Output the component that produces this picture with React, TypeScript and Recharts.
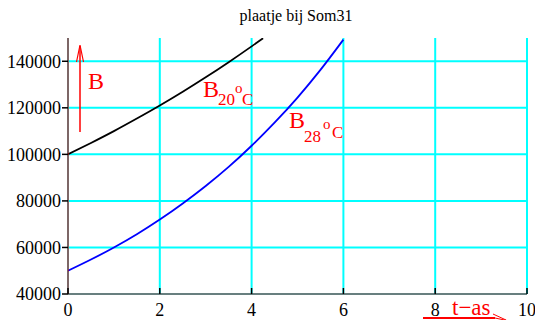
import React from "react";
import { LineChart, Line, XAxis, YAxis, CartesianGrid } from "recharts";

// Time (t) samples and the two growth curves
const tB20 = [0, 0.5, 1, 1.5, 2, 2.5, 3, 3.5, 4, 4.25];
const b20 = [100000, 104900, 110000, 115400, 121000, 126900, 133100, 139600, 146400, 149900];

const tB28 = [0, 0.5, 1, 1.5, 2, 2.5, 3, 3.5, 4, 4.5, 5, 5.5, 6];
const b28 = [50000, 54800, 60000, 65700, 72000, 78900, 86400, 94600, 103700, 113600, 124400, 136300, 149300];

const xTicks = [0, 2, 4, 6, 8, 10];
const yTicks = [40000, 60000, 80000, 100000, 120000, 140000];

const b20Data = tB20.map((t, i) => ({ t, B: b20[i] }));
const b28Data = tB28.map((t, i) => ({ t, B: b28[i] }));

const FONT = "'Liberation Serif', 'Times New Roman', 'DejaVu Serif', serif";
const CYAN = "#00ffff";
const RED = "#ff0000";
const AXIS_RED = "#d00000";

const BOTTOM_TICK_SIZE = 0;
const BOTTOM_TICK_MARGIN = 9;

const serif = { fontFamily: FONT };

const BottomTick = (props: any) => {
  const { x, y, payload } = props;
  const axisY = y - BOTTOM_TICK_SIZE - BOTTOM_TICK_MARGIN;
  return (
    <g>
      <line x1={x} x2={x} y1={axisY} y2={axisY - 6} stroke="#000" strokeWidth={1.5} />
      <text x={x} y={y} dy="0.71em" textAnchor="middle" fill="#000" style={serif} fontSize={18}>
        {payload.value}
      </text>
    </g>
  );
};

const LeftTick = (props: any) => {
  const { x, y, payload } = props;
  return (
    <text x={x} y={y} dy="0.355em" textAnchor="end" fill="#000" style={serif} fontSize={18}>
      {payload.value}
    </text>
  );
};

const TopTick = (props: any) => {
  const { x, y } = props;
  return <line x1={x} x2={x} y1={y} y2={y + 5} stroke="#000" strokeWidth={1.5} />;
};

export default function App() {
  return (
    <div style={{ position: "absolute", left: 0, top: 0, width: 535, height: 320, background: "#fff" }}>
      <LineChart width={535} height={320} margin={{ top: 38, right: 8, bottom: 0, left: 0 }}>
        <CartesianGrid stroke={CYAN} strokeWidth={2} verticalValues={xTicks} horizontalValues={yTicks} />
        <XAxis
          dataKey="t"
          type="number"
          domain={[0, 10]}
          ticks={xTicks}
          allowDataOverflow
          height={26}
          axisLine={{ stroke: AXIS_RED, strokeWidth: 1.2 }}
          tickLine={false}
          tickSize={BOTTOM_TICK_SIZE}
          tickMargin={BOTTOM_TICK_MARGIN}
          tick={<BottomTick />}
          interval={0}
        />
        <XAxis
          xAxisId="top"
          orientation="top"
          dataKey="t"
          type="number"
          domain={[0, 10]}
          ticks={xTicks}
          height={0}
          axisLine={false}
          tickLine={false}
          tickSize={0}
          tickMargin={0}
          tick={<TopTick />}
          interval={0}
        />
        <YAxis
          type="number"
          domain={[40000, 150000]}
          ticks={yTicks}
          allowDataOverflow
          width={68}
          axisLine={{ stroke: AXIS_RED, strokeWidth: 1.2 }}
          tickLine={{ stroke: "#000", strokeWidth: 1.5 }}
          tickSize={6}
          tickMargin={1}
          tick={<LeftTick />}
          interval={0}
        />
        <Line
          data={b20Data}
          dataKey="B"
          type="monotone"
          stroke="#000"
          strokeWidth={1.8}
          dot={false}
          isAnimationActive={false}
        />
        <Line
          data={b28Data}
          dataKey="B"
          type="monotone"
          stroke="#0000ff"
          strokeWidth={1.8}
          dot={false}
          isAnimationActive={false}
        />

        {/* title */}
        <text x={296} y={21} textAnchor="middle" style={serif} fontSize={16} fill="#000">
          plaatje bij Som31
        </text>

        {/* vertical-axis name with arrow */}
        <line x1={80} x2={80} y1={132} y2={46} stroke={RED} strokeWidth={1.5} />
        <polyline points="76.5,62 80,45 83.5,62" fill="none" stroke={RED} strokeWidth={1.2} />
        <text x={88} y={89} style={serif} fontSize={24} fill={RED}>B</text>

        {/* curve labels */}
        <text style={serif} fill={RED}>
          <tspan x={203} y={97} fontSize={24}>B</tspan>
          <tspan x={218} y={105} fontSize={17}>20</tspan>
          <tspan x={235} y={93} fontSize={15}>o</tspan>
          <tspan x={242} y={105} fontSize={17}>C</tspan>
        </text>
        <text style={serif} fill={RED}>
          <tspan x={289} y={128} fontSize={24}>B</tspan>
          <tspan x={304} y={142} fontSize={17}>28</tspan>
          <tspan x={323} y={129} fontSize={15}>o</tspan>
          <tspan x={332} y={138} fontSize={17}>C</tspan>
        </text>

        {/* horizontal-axis name */}
        <text x={452} y={315} style={serif} fontSize={23} fill={RED}>t−as</text>
        <line x1={423} x2={495} y1={318} y2={318} stroke={RED} strokeWidth={2} />
        <line x1={495} x2={514} y1={318} y2={322} stroke={RED} strokeWidth={1} />
        <polyline points="493,314 506,320" fill="none" stroke={RED} strokeWidth={1} />
      </LineChart>
    </div>
  );
}
